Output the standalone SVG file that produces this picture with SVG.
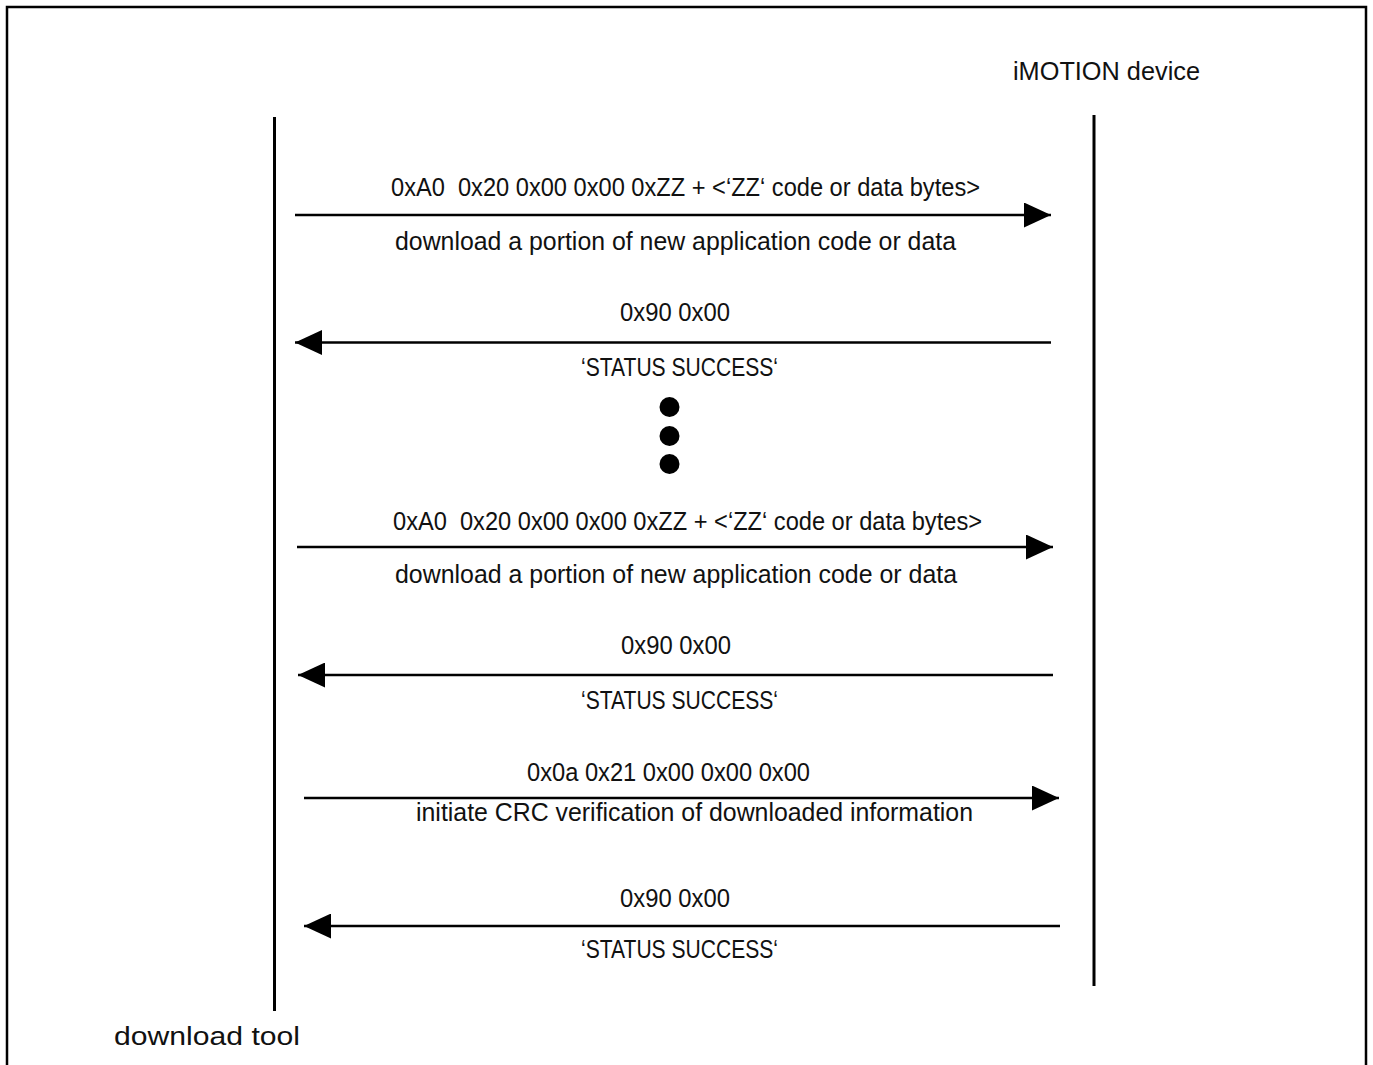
<svg xmlns="http://www.w3.org/2000/svg" width="1373" height="1065" viewBox="0 0 1373 1065">
  <style>
    .lbl { font-family: "Liberation Sans", Arial, sans-serif; font-size: 25.5px; fill: #111; white-space: pre; }
    .life { stroke: #000; stroke-width: 3; fill: none; }
    .msg { stroke: #000; stroke-width: 2.5; fill: none; }
    .head { fill: #000; }
  </style>
  <defs>
    <marker id="arrow" viewBox="0 0 27 25" refX="27" refY="12.5" markerWidth="27" markerHeight="25" markerUnits="userSpaceOnUse" orient="auto">
      <path class="head" d="M0,0 L27,12.5 L0,25 Z"/>
    </marker>
  </defs>
  <rect width="1373" height="1065" fill="#fff"/>

  <!-- outer frame (open at the bottom) -->
  <path d="M7,1065 V7 H1366 V1065" stroke="#000" stroke-width="2.5" fill="none"/>

  <!-- participants -->
  <g id="download-tool">
    <line class="life" x1="274.5" y1="117" x2="274.5" y2="1011"/>
    <text class="lbl" x="114" y="1045" textLength="186" lengthAdjust="spacingAndGlyphs">download tool</text>
  </g>
  <g id="imotion-device">
    <line class="life" x1="1094" y1="115" x2="1094" y2="986"/>
    <text class="lbl" x="1013" y="80" textLength="187" lengthAdjust="spacingAndGlyphs">iMOTION device</text>
  </g>

  <!-- messages -->
  <g id="connectors">
    <line class="msg" x1="295" y1="215" x2="1051" y2="215" marker-end="url(#arrow)"/>
    <line class="msg" x1="1051" y1="342.5" x2="295" y2="342.5" marker-end="url(#arrow)"/>
    <line class="msg" x1="297" y1="547" x2="1053" y2="547" marker-end="url(#arrow)"/>
    <line class="msg" x1="1053" y1="675" x2="298" y2="675" marker-end="url(#arrow)"/>
    <line class="msg" x1="304" y1="798" x2="1059" y2="798" marker-end="url(#arrow)"/>
    <line class="msg" x1="1060" y1="926" x2="304" y2="926" marker-end="url(#arrow)"/>
  </g>

  <!-- message labels -->
  <g id="msg1">
    <text class="lbl" x="391" y="196" textLength="589" lengthAdjust="spacingAndGlyphs">0xA0  0x20 0x00 0x00 0xZZ + &lt;‘ZZ‘ code or data bytes&gt;</text>
    <text class="lbl" x="395" y="250" textLength="561" lengthAdjust="spacingAndGlyphs">download a portion of new application code or data</text>
  </g>
  <g id="msg2">
    <text class="lbl" x="620" y="321" textLength="110" lengthAdjust="spacingAndGlyphs">0x90 0x00</text>
    <text class="lbl" x="581" y="376" textLength="197" lengthAdjust="spacingAndGlyphs">‘STATUS SUCCESS‘</text>
  </g>
  <g id="ellipsis">
    <circle cx="669.5" cy="407" r="10"/>
    <circle cx="669.5" cy="436" r="10"/>
    <circle cx="669.5" cy="464" r="10"/>
  </g>
  <g id="msg3">
    <text class="lbl" x="393" y="530" textLength="589" lengthAdjust="spacingAndGlyphs">0xA0  0x20 0x00 0x00 0xZZ + &lt;‘ZZ‘ code or data bytes&gt;</text>
    <text class="lbl" x="395" y="583" textLength="562" lengthAdjust="spacingAndGlyphs">download a portion of new application code or data</text>
  </g>
  <g id="msg4">
    <text class="lbl" x="621" y="654" textLength="110" lengthAdjust="spacingAndGlyphs">0x90 0x00</text>
    <text class="lbl" x="581" y="709" textLength="197" lengthAdjust="spacingAndGlyphs">‘STATUS SUCCESS‘</text>
  </g>
  <g id="msg5">
    <text class="lbl" x="527" y="781" textLength="283" lengthAdjust="spacingAndGlyphs">0x0a 0x21 0x00 0x00 0x00</text>
    <text class="lbl" x="416" y="821" textLength="557" lengthAdjust="spacingAndGlyphs">initiate CRC verification of downloaded information</text>
  </g>
  <g id="msg6">
    <text class="lbl" x="620" y="907" textLength="110" lengthAdjust="spacingAndGlyphs">0x90 0x00</text>
    <text class="lbl" x="581" y="958" textLength="197" lengthAdjust="spacingAndGlyphs">‘STATUS SUCCESS‘</text>
  </g>
</svg>
